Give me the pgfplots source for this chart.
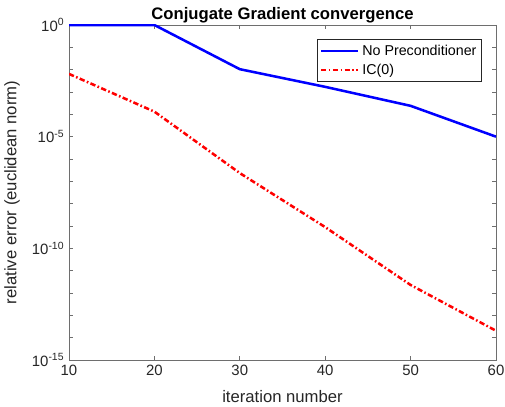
\documentclass[border=0pt]{standalone}
\usepackage{fontspec}
\setmainfont{Liberation Sans}
\usepackage{pgfplots}
\pgfplotsset{compat=1.18}
\definecolor{axgray}{RGB}{110,110,110}
\definecolor{txtgray}{RGB}{38,38,38}
\begin{document}
\begin{tikzpicture}
\useasboundingbox (-51.75pt,-34.5pt) rectangle (327pt,270pt);
\begin{axis}[
  at={(0,0)}, anchor=south west,
  scale only axis, width=320.25pt, height=251.25pt,
  xmin=10, xmax=60, ymode=log, ymin=1e-15, ymax=1,
  xtick={10,20,30,40,50,60},
  ytick={1e-15,1e-10,1e-5,1},
  yticklabels={10\textsuperscript{-15},10\textsuperscript{-10},10\textsuperscript{-5},10\textsuperscript{0}},
  minor ytick={1e-14,1e-13,1e-12,1e-11,1e-9,1e-8,1e-7,1e-6,1e-4,1e-3,1e-2,1e-1},
  tick align=inside, major tick length=3.2pt, minor tick length=3.2pt,
  axis line style={axgray, line width=0.6pt},
  tick style={axgray, line width=0.6pt},
  tick label style={font=\fontsize{11.2}{13}\selectfont, text=txtgray},
  /pgf/number format/assume math mode=true,
  every axis title shift=0pt,
  title={Conjugate Gradient convergence},
  title style={font=\fontsize{12.5}{15}\selectfont\bfseries, text=black, at={(axis description cs:0.5,1)}, anchor=base, yshift=4.3pt, inner sep=0pt},
  xlabel={iteration number},
  xlabel style={font=\fontsize{12.5}{15}\selectfont, text=txtgray, at={(axis description cs:0.5,0)}, anchor=center, yshift=-27.75pt},
  ylabel={relative error (euclidean norm)},
  ylabel style={font=\fontsize{12.5}{15}\selectfont, text=txtgray, at={(axis description cs:-0.1335,0.5)}, anchor=center},
  legend cell align=left,
  legend image code/.code={\draw[#1] (0pt,0pt) -- (28pt,0pt);},
  legend style={at={(rel axis cs:1,1)}, anchor=north east, xshift=-10.3pt, yshift=-10.7pt,
    draw=txtgray, line width=0.6pt, fill=white, font=\fontsize{10.7}{12}\selectfont, text=black,
    inner xsep=2pt, inner ysep=2pt, row sep=1pt},
]
\addplot[blue, line width=1.9pt] coordinates {(10,1) (20,1) (30,1.05e-2) (40,1.70e-3) (50,2.40e-4) (60,1e-5)};
\addlegendentry{No Preconditioner}
\addplot[red, line width=1.9pt, dash pattern=on 4pt off 1.8pt on 1.2pt off 1.8pt] coordinates {(10,6.46e-3) (20,1.32e-4) (30,2.34e-7) (40,8.9e-10) (50,2.29e-12) (60,2.04e-14)};
\addlegendentry{IC(0)}
\end{axis}
\end{tikzpicture}
\end{document}
